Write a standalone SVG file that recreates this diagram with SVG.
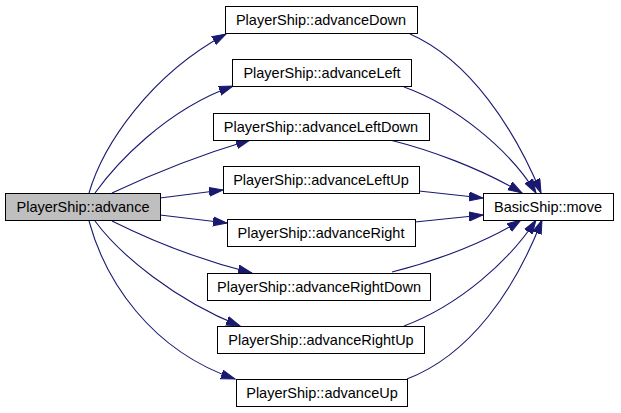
<svg xmlns="http://www.w3.org/2000/svg" width="621" height="413" viewBox="0 0 621 413">
<defs>
<style>
.n rect{fill:#ffffff;stroke:#000000;stroke-width:1}
.n.root rect{fill:#bfbfbf}
.n text{font-family:"Liberation Sans",Arial,sans-serif;font-size:14.5px;fill:#000000;text-anchor:middle}
.e path{fill:none;stroke:#191970;stroke-width:1.1;marker-end:url(#ah)}
</style>
<marker id="ah" markerUnits="userSpaceOnUse" markerWidth="16" markerHeight="12" refX="14" refY="5" orient="auto" viewBox="0 0 16 12">
<path d="M0,0.5 L14,5 L0,9.5 Z" fill="#191970" stroke="#191970" stroke-width="1"/>
</marker>
</defs>
<rect width="621" height="413" fill="#ffffff"/>
<g id="edges" class="e">
<path d="M89,193 C103,145 150,75 226,34"/>
<path d="M95,193 C115,165 165,110 233,86"/>
<path d="M112,193 C150,175 200,155 250,140"/>
<path d="M160,198 L223,190"/>
<path d="M160,215 L227,223"/>
<path d="M112,221 C150,240 200,260 252,273"/>
<path d="M95,221 C120,255 175,300 240,326"/>
<path d="M89,221 C105,280 150,350 235,379"/>
<path d="M410,34 C470,60 515,130 541,193"/>
<path d="M404,87 C455,105 510,150 536,193"/>
<path d="M390,140 C430,150 480,168 522,193"/>
<path d="M419,191 L483,198"/>
<path d="M415,222 L483,215"/>
<path d="M392,272 C440,260 490,240 521,220"/>
<path d="M404,326 C460,305 510,260 536,220"/>
<path d="M407,379 C470,355 515,290 542,220"/>
</g>
<g id="advance" class="n root"><rect x="5.5" y="193.5" width="155" height="27"/><text x="83" y="212">PlayerShip::advance</text></g>
<g id="advanceDown" class="n"><rect x="225.5" y="6.5" width="192" height="27"/><text x="321" y="25">PlayerShip::advanceDown</text></g>
<g id="advanceLeft" class="n"><rect x="232.5" y="59.5" width="179" height="27"/><text x="322" y="78">PlayerShip::advanceLeft</text></g>
<g id="advanceLeftDown" class="n"><rect x="213.5" y="113.5" width="216" height="27"/><text x="321" y="132">PlayerShip::advanceLeftDown</text></g>
<g id="advanceLeftUp" class="n"><rect x="223.5" y="166.5" width="196" height="27"/><text x="321" y="185">PlayerShip::advanceLeftUp</text></g>
<g id="advanceRight" class="n"><rect x="227.5" y="219.5" width="188" height="27"/><text x="321" y="238">PlayerShip::advanceRight</text></g>
<g id="advanceRightDown" class="n"><rect x="207.5" y="273.5" width="223" height="27"/><text x="319" y="292">PlayerShip::advanceRightDown</text></g>
<g id="advanceRightUp" class="n"><rect x="217.5" y="326.5" width="207" height="27"/><text x="321" y="345">PlayerShip::advanceRightUp</text></g>
<g id="advanceUp" class="n"><rect x="236.5" y="379.5" width="171" height="27"/><text x="322" y="398">PlayerShip::advanceUp</text></g>
<g id="move" class="n"><rect x="483.5" y="193.5" width="130" height="27"/><text x="548" y="212">BasicShip::move</text></g>
</svg>
